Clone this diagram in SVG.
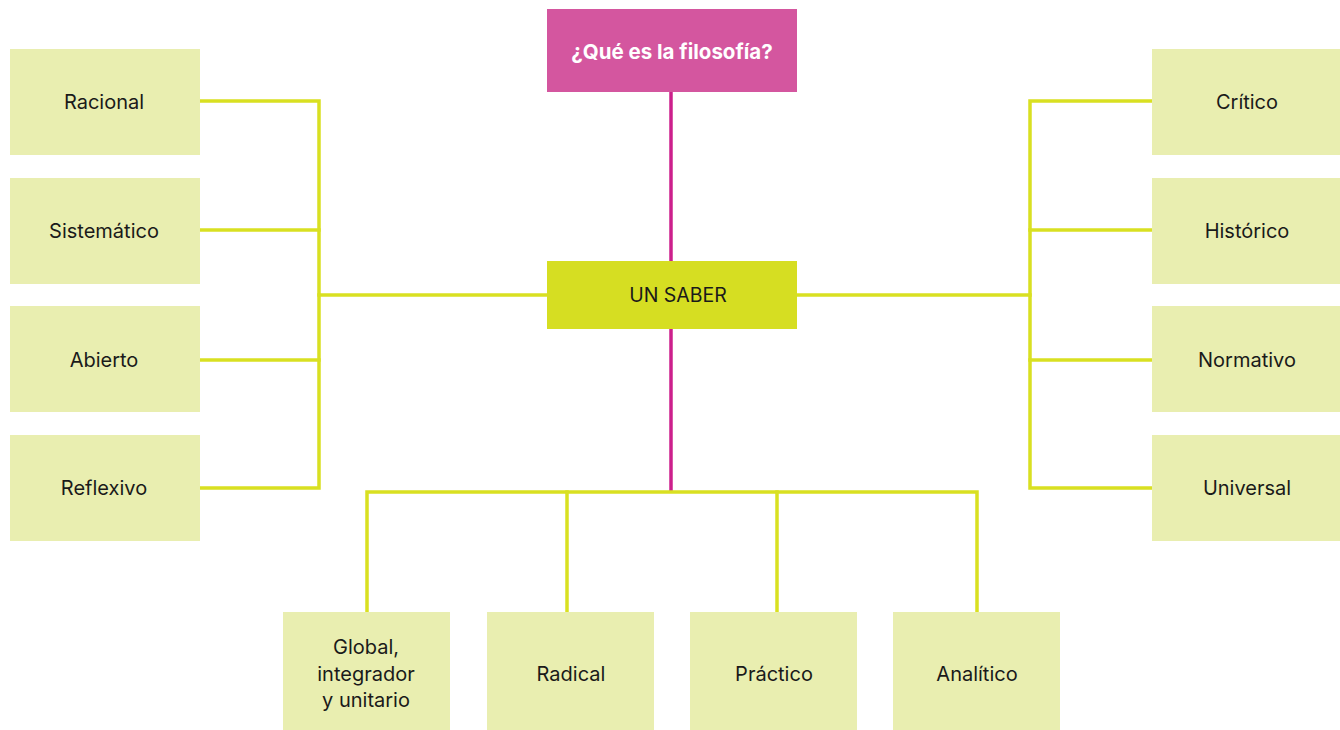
<svg xmlns="http://www.w3.org/2000/svg" width="1340" height="730" viewBox="0 0 1340 730">
<style>
.box{fill:#e9eeb0}
.lbl{font-family:Inter,"Liberation Sans",sans-serif;font-size:20px;fill:#1a1a1a;text-anchor:middle;dominant-baseline:central}
.y{stroke:#d9e021;stroke-width:3.5;fill:none;stroke-linecap:square}
.m{stroke:#cc1f8c;stroke-width:3.5;fill:none}
</style>
<rect width="1340" height="730" fill="#fff"/>
<g id="connectors">
<line class="m" x1="671" y1="92" x2="671" y2="261"/>
<line class="m" x1="671" y1="329" x2="671" y2="492"/>
<polyline class="y" points="200,101 319,101 319,488 200,488"/>
<line class="y" x1="200" y1="230" x2="319" y2="230"/>
<line class="y" x1="200" y1="360" x2="319" y2="360"/>
<line class="y" x1="319" y1="295" x2="547" y2="295"/>
<polyline class="y" points="1152,101 1030,101 1030,488 1152,488"/>
<line class="y" x1="1030" y1="230" x2="1152" y2="230"/>
<line class="y" x1="1030" y1="360" x2="1152" y2="360"/>
<line class="y" x1="797" y1="295" x2="1030" y2="295"/>
<polyline class="y" points="367,612 367,492 977,492 977,612"/>
<line class="y" x1="567" y1="492" x2="567" y2="612"/>
<line class="y" x1="777" y1="492" x2="777" y2="612"/>
</g>
<g id="title"><rect x="547" y="9" width="250" height="83" fill="#d4569f"/><text x="672" y="51" class="lbl" style="fill:#fff;font-weight:bold;font-size:20.5px">¿Qué es la filosofía?</text></g>
<g id="saber"><rect x="547" y="261" width="250" height="68" fill="#d6de22"/><text x="678" y="295" class="lbl" style="font-size:19.5px">UN SABER</text></g>
<g id="racional"><rect class="box" x="10" y="49" width="190" height="106"/><text class="lbl" x="104" y="102">Racional</text></g>
<g id="sistematico"><rect class="box" x="10" y="178" width="190" height="106"/><text class="lbl" x="104" y="231">Sistemático</text></g>
<g id="abierto"><rect class="box" x="10" y="306" width="190" height="106"/><text class="lbl" x="104" y="360">Abierto</text></g>
<g id="reflexivo"><rect class="box" x="10" y="435" width="190" height="106"/><text class="lbl" x="104" y="488">Reflexivo</text></g>
<g id="critico"><rect class="box" x="1152" y="49" width="188" height="106"/><text class="lbl" x="1247" y="102">Crítico</text></g>
<g id="historico"><rect class="box" x="1152" y="178" width="188" height="106"/><text class="lbl" x="1247" y="231">Histórico</text></g>
<g id="normativo"><rect class="box" x="1152" y="306" width="188" height="106"/><text class="lbl" x="1247" y="360">Normativo</text></g>
<g id="universal"><rect class="box" x="1152" y="435" width="188" height="106"/><text class="lbl" x="1247" y="488">Universal</text></g>
<g id="global"><rect class="box" x="283" y="612" width="167" height="118"/><text class="lbl" x="366" y="647">Global,</text><text class="lbl" x="366" y="674">integrador</text><text class="lbl" x="366" y="700">y unitario</text></g>
<g id="radical"><rect class="box" x="487" y="612" width="167" height="118"/><text class="lbl" x="571" y="674">Radical</text></g>
<g id="practico"><rect class="box" x="690" y="612" width="167" height="118"/><text class="lbl" x="774" y="674">Práctico</text></g>
<g id="analitico"><rect class="box" x="893" y="612" width="167" height="118"/><text class="lbl" x="977" y="674">Analítico</text></g>
</svg>
